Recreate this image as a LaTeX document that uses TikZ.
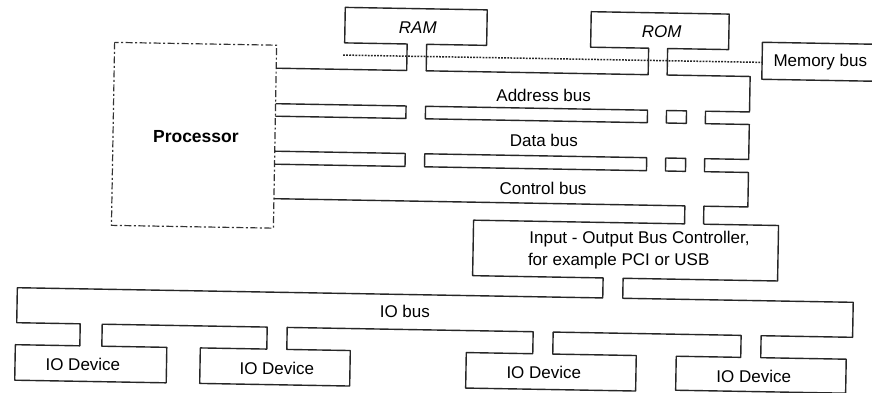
\documentclass[tikz,border=0pt]{standalone}
\usepackage{fontspec}
\setmainfont{Liberation Sans}
\begin{document}
\begin{tikzpicture}[x=1pt,y=-1pt,
  outline/.style={line width=1.4pt,draw=black!85,line join=round},
  procbox/.style={line width=1.2pt,draw=black!80,dash pattern=on 7pt off 2.5pt on 2pt off 2.5pt},
  memline/.style={line width=1.5pt,draw=black!85,dash pattern=on 1.8pt off 1.3pt},
  lbl/.style={font=\fontsize{17}{20}\selectfont,inner sep=0pt,text=black},
  ilbl/.style={lbl,font=\fontsize{17}{20}\selectfont\itshape},
  blbl/.style={lbl,font=\fontsize{17.5}{20}\selectfont\bfseries}]
\useasboundingbox (0,0) rectangle (872,392);
\fill[white] (0,0) rectangle (872,392);
\begin{scope}[rotate around={-1:(436,196)}]
% processor
\draw[procbox] (112,48) rectangle (274,231);
\node[blbl,anchor=base] (proc) at (195,147) {Processor};
% memories and system bus outline
\draw[outline] (274,71) -- (404.5,71) -- (404.5,44.5) -- (342,44.5) -- (342,9) -- (484,9)
  -- (484,44.5) -- (424,44.5) -- (424,71) -- (646,71) -- (646,44.5) -- (588,44.5)
  -- (588,9) -- (726,9) -- (726,44.5) -- (665,44.5) -- (665,71) -- (748,71)
  -- (748,106.5) -- (704,106.5) -- (704,119) -- (748,119) -- (748,154) -- (704,154)
  -- (704,167) -- (748,167) -- (748,201.5) -- (704,201.5) -- (704,219.5);
\node[ilbl,anchor=base] (ram) at (415,34) {RAM};
\node[ilbl,anchor=base] (rom) at (659,34) {ROM};
% slots between buses
\draw[outline] (274,106.5) -- (404.5,106.5) -- (404.5,119) -- (274,119);
\draw[outline] (424,106.5) rectangle (646,119);
\draw[outline] (665,106.5) rectangle (685,119);
\draw[outline] (274,154) -- (404.5,154) -- (404.5,167) -- (274,167);
\draw[outline] (424,154) rectangle (646,167);
\draw[outline] (665,154) rectangle (685,167);
\node[lbl,anchor=base] (addr) at (542,100) {Address bus};
\node[lbl,anchor=base] (data) at (543,145) {Data bus};
\node[lbl,anchor=base] (ctrl) at (543,193) {Control bus};
% controller and IO bus
\draw[outline] (274,201.5) -- (685,201.5) -- (685,219.5) -- (474,219.5) -- (474,275)
  -- (604.5,275) -- (604.5,295) -- (19,295) -- (19,330) -- (82.5,330) -- (82.5,352)
  -- (18,352) -- (18,387.5) -- (169.5,387.5) -- (169.5,352) -- (104.5,352) -- (104.5,330)
  -- (269.5,330) -- (269.5,352) -- (203,352) -- (203,387.5) -- (353,387.5) -- (353,352)
  -- (289.5,352) -- (289.5,330) -- (535.5,330) -- (535.5,352) -- (469,352) -- (469,387.5)
  -- (639,387.5) -- (639,352) -- (555.5,352) -- (555.5,330) -- (743.5,330) -- (743.5,352)
  -- (679,352) -- (679,386) -- (849,386) -- (849,352) -- (763.5,352) -- (763.5,330)
  -- (855,330) -- (855,295) -- (624.5,295) -- (624.5,275) -- (779,275) -- (779,219.5)
  -- (704,219.5);
\node[lbl,anchor=base west] (ioc1) at (530,242) {Input - Output Bus Controller,};
\node[lbl,anchor=base west] (ioc2) at (529,264) {for example PCI or USB};
\node[lbl,anchor=base] (iobus) at (407,318.5) {IO bus};
\node[lbl,anchor=base] (dev1) at (86,377) {IO Device};
\node[lbl,anchor=base] (dev2) at (280,377) {IO Device};
\node[lbl,anchor=base] (dev3) at (547,377) {IO Device};
\node[lbl,anchor=base] (dev4) at (757,377) {IO Device};
% memory bus
\draw[outline] (880,36.6) -- (759.7,36.6) -- (759.7,73.6) -- (880,73.6);
\coordinate (mbw) at (759.7,56.7);
\coordinate (mstart) at (340.6,56.7);
\node[lbl,anchor=base west] (membus) at (771,61) {Memory bus};
\draw[memline] (mstart) -- (mbw);
\end{scope}
\end{tikzpicture}
\end{document}
